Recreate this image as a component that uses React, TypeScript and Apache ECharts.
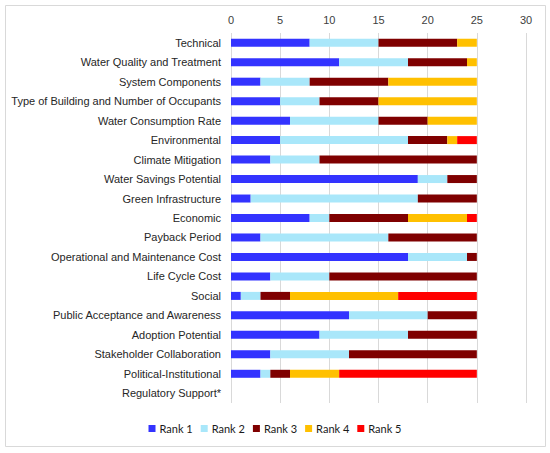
import React, { useEffect, useRef } from "react";
import * as echarts from "echarts";

const categories = [
  "Technical",
  "Water Quality and Treatment",
  "System Components",
  "Type of Building and Number of Occupants",
  "Water Consumption Rate",
  "Environmental",
  "Climate Mitigation",
  "Water Savings Potential",
  "Green Infrastructure",
  "Economic",
  "Payback Period",
  "Operational and Maintenance Cost",
  "Life Cycle Cost",
  "Social",
  "Public Acceptance and Awareness",
  "Adoption Potential",
  "Stakeholder Collaboration",
  "Political-Institutional",
  "Regulatory Support*",
];

const rank1 = [8, 11, 3, 5, 6, 5, 4, 19, 2, 8, 3, 18, 4, 1, 12, 9, 4, 3, 0];
const rank2 = [7, 7, 5, 4, 9, 13, 5, 3, 17, 2, 13, 6, 6, 2, 8, 9, 8, 1, 0];
const rank3 = [8, 6, 8, 6, 5, 4, 16, 3, 6, 8, 9, 1, 15, 3, 5, 7, 13, 2, 0];
const rank4 = [2, 1, 9, 10, 5, 1, 0, 0, 0, 6, 0, 0, 0, 11, 0, 0, 0, 5, 0];
const rank5 = [0, 0, 0, 0, 0, 2, 0, 0, 0, 1, 0, 0, 0, 8, 0, 0, 0, 14, 0];

const seriesNames = ["Rank 1", "Rank 2", "Rank 3", "Rank 4", "Rank 5"];
const seriesColors = ["#3333FF", "#A9E7FA", "#7F0000", "#FFC000", "#FF0000"];
const seriesData = [rank1, rank2, rank3, rank4, rank5];

const FONT = "'Liberation Sans', Arial, sans-serif";
const LEGEND_FONT = "Lato, 'Liberation Sans', sans-serif";

export default function App() {
  const ref = useRef<HTMLDivElement>(null);
  useEffect(() => {
    if (!ref.current) return;
    const chart = echarts.init(ref.current, undefined, { renderer: "svg" });
    chart.setOption({
      animation: false,
      backgroundColor: "#ffffff",
      textStyle: { fontFamily: FONT },
      graphic: [
        {
          type: "rect",
          shape: { x: 5.5, y: 5.5, width: 540, height: 441 },
          style: { fill: "none", stroke: "#d9d9d9", lineWidth: 1 },
          silent: true,
        },
      ],
      grid: {
        left: 231,
        right: 24,
        top: 33,
        bottom: 50,
        containLabel: false,
        outerBoundsMode: "none",
      },
      xAxis: {
        type: "value",
        position: "top",
        min: 0,
        max: 30,
        interval: 5,
        axisLine: { show: false },
        axisTick: { show: false },
        axisLabel: { color: "#404040", fontSize: 11, margin: 8, fontFamily: FONT },
        splitLine: { show: true, lineStyle: { color: "#d9d9d9", width: 1 } },
      },
      yAxis: {
        type: "category",
        inverse: true,
        data: categories,
        axisLine: { show: false },
        axisTick: { show: false },
        axisLabel: { color: "#262626", fontSize: 11, margin: 10, fontFamily: FONT },
      },
      legend: {
        data: seriesNames,
        bottom: 14,
        left: "center",
        icon: "rect",
        itemWidth: 7,
        itemHeight: 7,
        itemGap: 8,
        textStyle: { color: "#1a1a1a", fontSize: 11, fontFamily: LEGEND_FONT, padding: [0, 0, 0, -1] },
      },
      series: seriesNames.map((name, i) => ({
        name,
        type: "bar",
        stack: "total",
        barWidth: 8,
        data: seriesData[i],
        itemStyle: { color: seriesColors[i] },
      })),
    });
    return () => chart.dispose();
  }, []);
  return (
    <div
      ref={ref}
      style={{ position: "fixed", left: 0, top: 0, width: 550, height: 453 }}
    />
  );
}
